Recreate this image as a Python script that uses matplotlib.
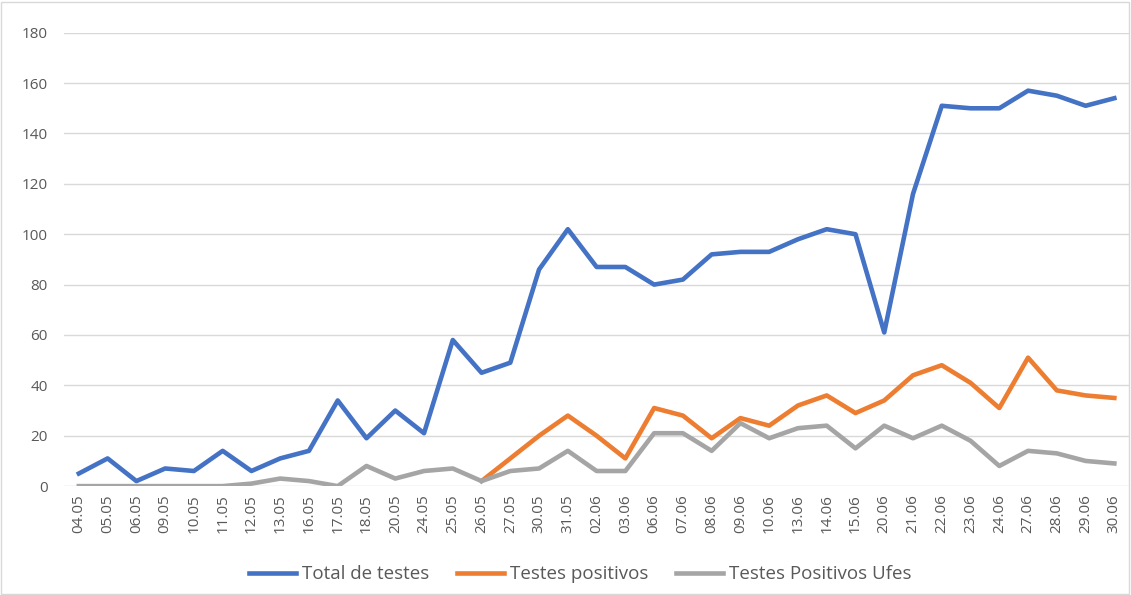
import matplotlib
matplotlib.use("Agg")
import matplotlib.pyplot as plt
from matplotlib.patches import Rectangle

dates = ["04.05", "05.05", "06.05", "09.05", "10.05", "11.05", "12.05", "13.05", "16.05",
         "17.05", "18.05", "20.05", "24.05", "25.05", "26.05", "27.05", "30.05", "31.05",
         "02.06", "03.06", "06.06", "07.06", "08.06", "09.06", "10.06", "13.06", "14.06",
         "15.06", "20.06", "21.06", "22.06", "23.06", "24.06", "27.06", "28.06", "29.06", "30.06"]

total = [5, 11, 2, 7, 6, 14, 6, 11, 14, 34, 19, 30, 21, 58, 45, 49, 86, 102, 87, 87,
         80, 82, 92, 93, 93, 98, 102, 100, 61, 116, 151, 150, 150, 157, 155, 151, 154]

positivos_start = 14
positivos = [2, 11, 20, 28, 20, 11, 31, 28, 19, 27, 24, 32, 36, 29, 34, 44, 48, 41,
             31, 51, 38, 36, 35]

ufes = [0, 0, 0, 0, 0, 0, 1, 3, 2, 0, 8, 3, 6, 7, 2, 6, 7, 14, 6, 6, 21, 21, 14, 25,
        19, 23, 24, 15, 24, 19, 24, 18, 8, 14, 13, 10, 9]

plt.rcParams['font.family'] = ['Open Sans', 'DejaVu Sans']

fig = plt.figure(figsize=(11.31, 5.95), dpi=100)
ax = fig.add_axes([0.057, 0.183, 0.941, 0.762])

x = list(range(len(dates)))
ax.plot(x, total, color="#4472C4", lw=3.3, label="Total de testes", solid_joinstyle="round")
ax.plot(x[positivos_start:], positivos, color="#ED7D31", lw=3.3, label="Testes positivos",
        solid_joinstyle="round")
ax.plot(x, ufes, color="#A5A5A5", lw=3.3, label="Testes Positivos Ufes", solid_joinstyle="round")

ax.set_xlim(-0.5, len(dates) - 0.5)
ax.set_ylim(0, 180)
ax.set_yticks(range(0, 181, 20))
ax.set_xticks(x)
ax.set_xticklabels(dates, rotation=90)
ax.grid(axis="y", color="#D9D9D9", lw=1)
ax.set_axisbelow(True)
for s in ax.spines.values():
    s.set_visible(False)
ax.tick_params(axis="both", length=0, colors="#595959", labelsize=11)
ax.tick_params(axis="y", pad=12)
ax.tick_params(axis="x", pad=6)

leg = fig.legend(loc="center", bbox_to_anchor=(0.513, 0.035), ncol=3, frameon=False,
                 fontsize=13.5, handlelength=2.5, handletextpad=0.3, columnspacing=1.5)
for t in leg.get_texts():
    t.set_color("#595959")

fig.patches.append(Rectangle((0.001, 0.001), 0.997, 0.996, transform=fig.transFigure,
                             fill=False, edgecolor="#D9D9D9", lw=1))

fig.savefig("out.png", dpi=100)
